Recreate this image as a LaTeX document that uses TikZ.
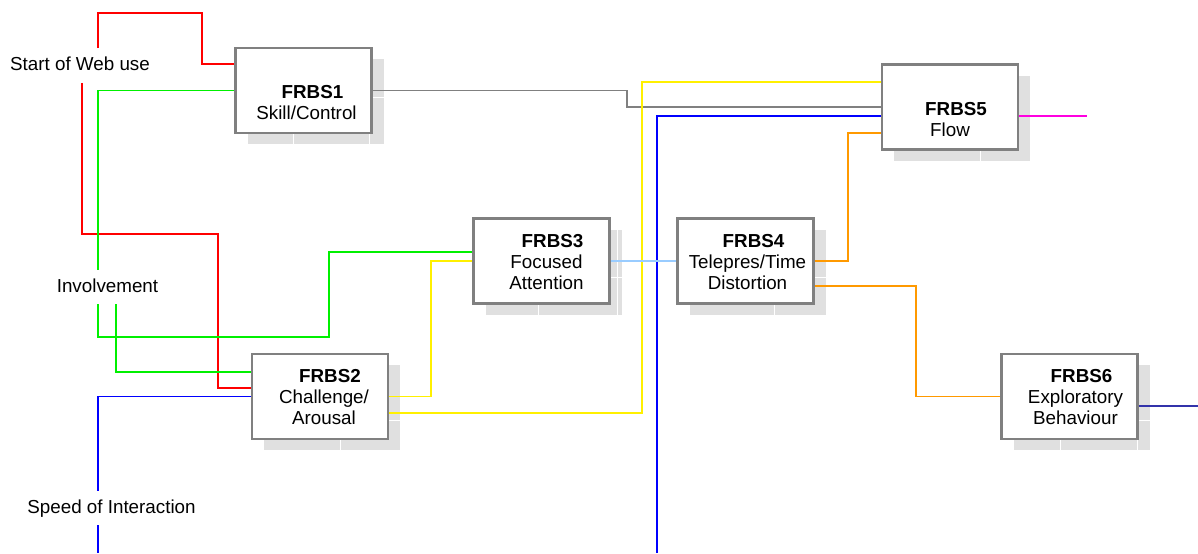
\documentclass[tikz,border=0pt]{standalone}
\usepackage{fontspec}
\setmainfont{Liberation Sans}
\usetikzlibrary{positioning}

\definecolor{boxgray}{HTML}{808080}
\definecolor{shadowgray}{HTML}{E0E0E0}
\definecolor{wirered}{HTML}{FF0000}
\definecolor{wiregreen}{HTML}{00F000}
\definecolor{wireblue}{HTML}{0000FF}
\definecolor{wireyellow}{HTML}{FFF000}
\definecolor{wiregray}{HTML}{808080}
\definecolor{wirelightblue}{HTML}{99CCFF}
\definecolor{wireorange}{HTML}{FF9900}
\definecolor{wiremagenta}{HTML}{FF00E0}
\definecolor{wirenavy}{HTML}{3333AA}

\begin{document}
\begin{tikzpicture}[x=0.5pt, y=-0.5pt,
    font=\fontsize{9.4}{10.5}\selectfont,
    frbs/.style={draw=boxgray, line width=1.2pt, fill=white, minimum width=68pt, minimum height=42.5pt, inner sep=0pt},
    shadowbox/.style={fill=shadowgray, minimum width=68pt, minimum height=42.5pt, inner sep=0pt},
    frbstext/.style={align=center, inner sep=0pt},
    inputlbl/.style={inner sep=0pt, minimum height=17pt, text height=7pt, text depth=2pt},
    wire/.style={line width=0.75pt},
    tileline/.style={white, line width=0.5pt}]

    \useasboundingbox (0,0) rectangle (1198,553);

    % Shadows
    \node[shadowbox] (s1) at (315.5, 101.5) {};
    \node[shadowbox] (s2) at (332, 407.5) {};
    \node[shadowbox] (s3) at (553.5, 272) {};
    \node[shadowbox] (s4) at (757.5, 272) {};
    \node[shadowbox] (s5) at (962, 118) {};
    \node[shadowbox] (s6) at (1081.5, 407.5) {};
    \draw[tileline] (293, 59) -- (293, 144);
    \draw[tileline] (369, 59) -- (369, 144);
    \draw[tileline] (247.5, 97) -- (383.5, 97);
    \draw[tileline] (340, 365) -- (340, 450);
    \draw[tileline] (264, 420) -- (400, 420);
    \draw[tileline] (538, 229.5) -- (538, 314.5);
    \draw[tileline] (617, 229.5) -- (617, 314.5);
    \draw[tileline] (485.5, 277) -- (621.5, 277);
    \draw[tileline] (774, 229.5) -- (774, 314.5);
    \draw[tileline] (689.5, 277) -- (825.5, 277);
    \draw[tileline] (980, 76) -- (980, 161);
    \draw[tileline] (1060, 365) -- (1060, 450);
    \draw[tileline] (1137, 365) -- (1137, 450);
    \draw[tileline] (1013.5, 420) -- (1149.5, 420);

    % Boxes
    \node[frbs] (f1) at (303.5, 90.5) {};
    \node[frbs] (f2) at (320, 396.5) {};
    \node[frbs] (f3) at (541.5, 261) {};
    \node[frbs] (f4) at (745.5, 261) {};
    \node[frbs] (f5) at (950, 107) {};
    \node[frbs] (f6) at (1069.5, 396.5) {};

    \node[frbstext] (t1) at ([xshift=1.5pt, yshift=-2pt]f1) {\strut\\\hspace*{6pt}\textbf{FRBS1}\strut\\Skill/Control\strut};
    \node[frbstext] (t2) at ([xshift=2pt, yshift=-1.5pt]f2) {\hspace*{6pt}\textbf{FRBS2}\strut\\Challenge/\strut\\Arousal\strut};
    \node[frbstext] (t3) at ([xshift=2.5pt, yshift=-1.5pt]f3) {\hspace*{6pt}\textbf{FRBS3}\strut\\Focused\strut\\Attention\strut};
    \node[frbstext] (t4) at ([xshift=1pt, yshift=-1.5pt]f4) {\hspace*{6pt}\textbf{FRBS4}\strut\\Telepres/Time\strut\\Distortion\strut};
    \node[frbstext] (t5) at ([xshift=0pt, yshift=-2pt]f5) {\strut\\\hspace*{6pt}\textbf{FRBS5}\strut\\Flow\strut};
    \node[frbstext] (t6) at ([xshift=3pt, yshift=-1.5pt]f6) {\hspace*{6pt}\textbf{FRBS6}\strut\\Exploratory\strut\\Behaviour\strut};

    % Inputs
    \node[inputlbl] (sw) at (80, 65.5) {Start of Web use};
    \node[inputlbl] (inv) at (107.5, 287) {Involvement};
    \node[inputlbl] (soi) at (111.5, 508) {Speed of Interaction};

    \coordinate (b1) at (98, 553);
    \coordinate (b2) at (657, 553);
    \coordinate (m5) at (1087, 116);
    \coordinate (n6) at (1198, 406);

    % Connectors
    \draw[wire, wirered] ([xshift=9pt]sw.north) |- (202, 13) |- ([yshift=13.25pt]f1.west);
    \draw[wire, wirered] ([xshift=1pt]sw.south) |- (218, 234) |- ([yshift=4.25pt]f2.west);

    \draw[wire, wiregreen] ([xshift=-4.75pt]inv.north) |- (f1.west);
    \draw[wire, wiregreen] ([xshift=-4.75pt]inv.south) |- (329, 337) |- ([yshift=4.5pt]f3.west);
    \draw[wire, wiregreen] ([xshift=4.25pt]inv.south) |- ([yshift=12.25pt]f2.west);

    \draw[wire, wireblue] ([xshift=-6.75pt]soi.north) |- (f2.west);
    \draw[wire, wireblue] ([xshift=-6.75pt]soi.south) -- (b1);
    \draw[wire, wireblue] (b2) |- ([yshift=-4.5pt]f5.west);

    \draw[wire, wiregray] (f1.east) -| (627, 107) -- (f5.west);

    \draw[wire, wireyellow] (f2.east) -| (431, 261) -- (f3.west);
    \draw[wire, wireyellow] ([yshift=-8.25pt]f2.east) -| (642, 82) -- ([yshift=12.5pt]f5.west);

    \draw[wire, wirelightblue] (f3.east) -- (f4.west);

    \draw[wire, wireorange] (f4.east) -| (848, 133) -- ([yshift=-13pt]f5.west);
    \draw[wire, wireorange] ([yshift=-12.5pt]f4.east) -| (916, 396.5) -- (f6.west);

    \draw[wire, wiremagenta] ([yshift=-4.5pt]f5.east) -- (m5);
    \draw[wire, wirenavy] ([yshift=-4.75pt]f6.east) -- (n6);
\end{tikzpicture}
\end{document}
